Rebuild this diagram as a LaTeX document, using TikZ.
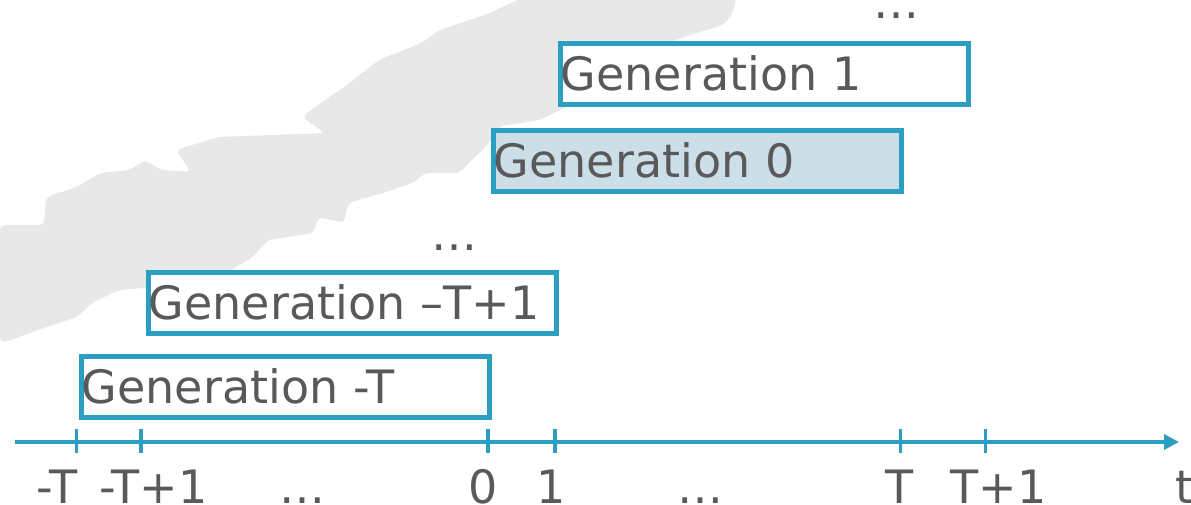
\documentclass[tikz,border=0pt]{standalone}
\usepackage{fontspec}
\setmainfont{DejaVu Sans}
\usetikzlibrary{arrows.meta}
\definecolor{genblue}{HTML}{2B9EC2}
\definecolor{genfill}{HTML}{CCDEE8}
\definecolor{txtgrey}{HTML}{595959}
\definecolor{blobgrey}{HTML}{E8E8E8}
\begin{document}
\begin{tikzpicture}[x=1pt,y=-1pt,
  genbox/.style={draw=genblue, line width=5pt, fill=white, anchor=north west,
    minimum width=408.5pt, minimum height=61pt, text width=407pt, inner xsep=0.75pt,
    align=left, text height=33pt, text depth=0pt, font=\fontsize{46}{46}\selectfont,
    text=txtgrey},
  axlabel/.style={anchor=base, font=\fontsize{46}{46}\selectfont, text=txtgrey, inner sep=0pt},
  tickline/.style={draw=genblue, line width=3.2pt}]
\useasboundingbox (0,0) rectangle (1191,505);
% background band
\fill[blobgrey, rounded corners=5pt] (0,225) -- (44,225) -- (46,197) -- (77,187) -- (100,173) -- (130,170) -- (145,160) -- (161,170) -- (191,172) -- (176,150) -- (218,137) -- (325,133) -- (302,117) -- (325,100) -- (344,87) -- (379,60) -- (421,43) -- (440,30) -- (490,13) -- (528,-5) -- (737,-5) -- (732,15) -- (723,25) -- (690,35) -- (670,42) -- (640,60) -- (580,100) -- (560,110) -- (540,120) -- (500,126) -- (486,147) -- (475,157) -- (459,173) -- (425,173) -- (413,183) -- (383,193) -- (348,203) -- (344,223) -- (318,217) -- (314,233) -- (268,240) -- (253,257) -- (226,273) -- (180,285) -- (119,290) -- (92,303) -- (77,317) -- (38,330) -- (11,340) -- (0,343) -- cycle;
% boxes
\node[genbox] (g1) at (557.5,41.5) {Generation 1};
\node[genbox, fill=genfill] (g0) at (490.5,128.5) {Generation 0};
\node[genbox] (gt1) at (145.5,269.5) {Generation –T+1};
\node[genbox] (gt) at (78.5,353.5) {Generation -T};
\node[axlabel] (dtop) at (896,19) {…};
\node[axlabel] (dmid) at (454,251) {…};
% axis
\coordinate (axs) at (15,442);
\coordinate (axe) at (1179,442);
\draw[draw=genblue, line width=3.5pt, -{Triangle[length=15pt,width=15pt]}] (axs) -- (axe);
\foreach \n/\x in {a/76.5, b/141, c/488, d/555, e/900.5, f/985.6}{
  \coordinate (t\n top) at (\x,429);
  \coordinate (t\n bot) at (\x,453);
  \draw[tickline] (t\n top) -- (t\n bot);
}
\node[axlabel] (la) at (57,503) {-T};
\node[axlabel] (lb) at (153.5,503) {-T+1};
\node[axlabel] (lc) at (302,503) {…};
\node[axlabel] (ld) at (483.5,503) {0};
\node[axlabel] (le) at (551,503) {1};
\node[axlabel] (lf) at (700,503) {…};
\node[axlabel] (lg) at (899.5,503) {T};
\node[axlabel] (lh) at (998.5,503) {T+1};
\node[axlabel, anchor=base west] (lt) at (1175,503) {t};
\end{tikzpicture}
\end{document}
